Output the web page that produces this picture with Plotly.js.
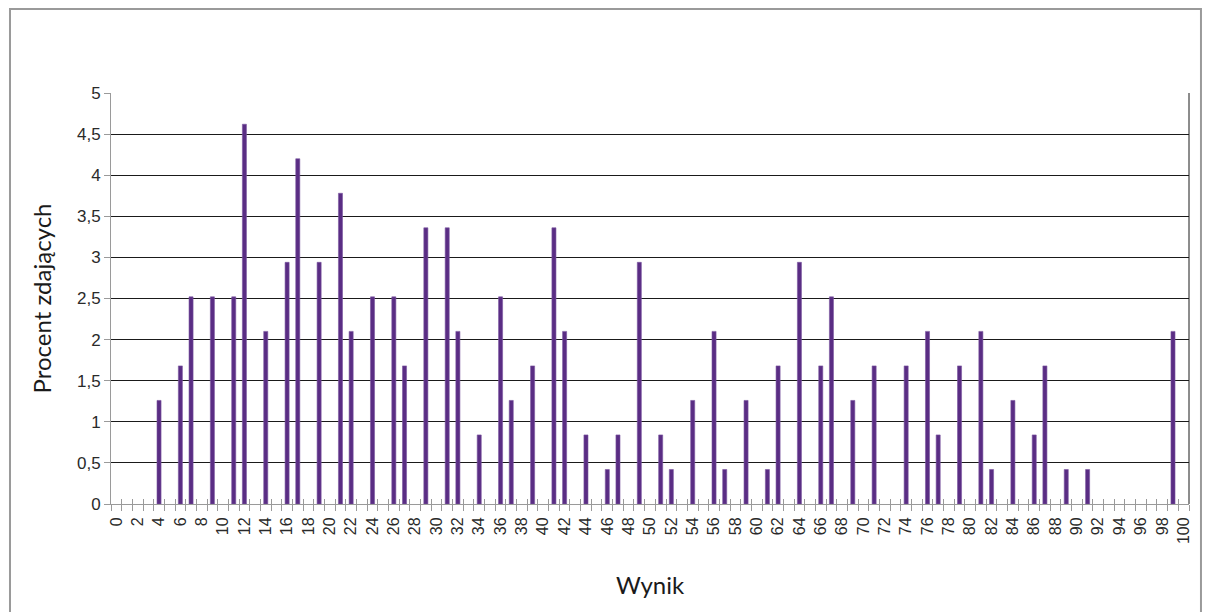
<!DOCTYPE html>
<html>
<head>
<meta charset="utf-8">
<script src="https://cdn.plot.ly/plotly-3.0.1.min.js"></script>
</head>
<body style="margin:0">
<div id="chart" style="width:1208px;height:612px"></div>
<script>
// Scores (Wynik) that have a bar, and the percent of test takers for each
const scores = [4, 6, 7, 9, 11, 12, 14, 16, 17, 19, 21, 22, 24, 26, 27, 29, 31, 32, 34,
                36, 37, 39, 41, 42, 44, 46, 47, 49, 51, 52, 54, 56, 57, 59, 61, 62, 64, 66, 67,
                69, 71, 74, 76, 77, 79, 81, 82, 84, 86, 87, 89, 91, 99];
const percents = [1.26, 1.68, 2.52, 2.52, 2.52, 4.62, 2.1, 2.94, 4.2, 2.94, 3.78, 2.1, 2.52, 2.52, 1.68, 3.36, 3.36, 2.1, 0.84,
                  2.52, 1.26, 1.68, 3.36, 2.1, 0.84, 0.42, 0.84, 2.94, 0.84, 0.42, 1.26, 2.1, 0.42, 1.26, 0.42, 1.68, 2.94, 1.68, 2.52,
                  1.26, 1.68, 1.68, 2.1, 0.84, 1.68, 2.1, 0.42, 1.26, 0.84, 1.68, 0.42, 0.42, 2.1];
// X tick labels (every second score 0..100)
const xTickVals = [];
for (let v = 0; v <= 100; v += 2) xTickVals.push(v);
const xTickText = xTickVals.map(String);
// Y tick labels (decimal comma)
const yTickVals = [0, 0.5, 1, 1.5, 2, 2.5, 3, 3.5, 4, 4.5, 5];
const yTickText = ['0', '0,5', '1', '1,5', '2', '2,5', '3', '3,5', '4', '4,5', '5'];
// Category boundaries, where the x-axis tick marks sit
const xBoundaries = [];
for (let v = 0; v <= 101; v++) xBoundaries.push(v - 0.5);
const xTitle = 'Wynik';
const yTitle = 'Procent zdających';

const bars = {
  type: 'bar',
  x: scores,
  y: percents,
  width: 0.38,
  marker: { color: '#5a2d84', line: { color: '#7a56a0', width: 0.6 } },
  hoverinfo: 'x+y'
};
// invisible companions so the tick-mark axes are drawn
const tickHelperOut = { type: 'scatter', mode: 'markers', x: scores, y: percents, xaxis: 'x2', yaxis: 'y',
  marker: { opacity: 0 }, hoverinfo: 'skip', showlegend: false };
const tickHelperIn = { type: 'scatter', mode: 'markers', x: scores, y: percents, xaxis: 'x3', yaxis: 'y',
  marker: { opacity: 0 }, hoverinfo: 'skip', showlegend: false };

const xRange = [-0.5, 100.5];

const layout = {
  width: 1208,
  height: 612,
  margin: { l: 111, r: 19, t: 93, b: 108 },
  paper_bgcolor: '#ffffff',
  plot_bgcolor: '#ffffff',
  showlegend: false,
  font: { size: 16 },
  xaxis: {
    range: xRange,
    tickmode: 'array',
    tickvals: xTickVals,
    ticktext: xTickText,
    tickangle: -90,
    ticks: 'outside',
    ticklen: 6,
    tickcolor: '#ffffff',
    tickfont: { family: 'Arial', size: 16, color: '#2a2a2a' },
    showgrid: false,
    zeroline: false,
    showline: true,
    linecolor: '#9a9a9a',
    linewidth: 1,
    title: { text: xTitle, font: { family: 'Lato', size: 24, color: '#1a1a1a' }, standoff: 34 }
  },
  xaxis2: {
    overlaying: 'x',
    anchor: 'y',
    side: 'bottom',
    range: xRange,
    tickmode: 'array',
    tickvals: xBoundaries,
    showticklabels: false,
    ticks: 'outside',
    ticklen: 6,
    tickcolor: '#9a9a9a',
    tickwidth: 1,
    showgrid: false,
    zeroline: false,
    showline: false
  },
  xaxis3: {
    overlaying: 'x',
    anchor: 'y',
    side: 'bottom',
    range: xRange,
    tickmode: 'array',
    tickvals: xBoundaries,
    showticklabels: false,
    ticks: 'inside',
    ticklen: 5,
    tickcolor: '#9a9a9a',
    tickwidth: 1,
    showgrid: false,
    zeroline: false,
    showline: false
  },
  yaxis: {
    range: [0, 5],
    tickmode: 'array',
    tickvals: yTickVals,
    ticktext: yTickText,
    ticks: 'outside',
    ticklen: 6,
    tickcolor: '#9a9a9a',
    tickfont: { family: 'Arial', size: 17, color: '#2a2a2a' },
    showgrid: true,
    gridcolor: '#1a1a1a',
    gridwidth: 1,
    zeroline: false,
    showline: true,
    linecolor: '#9a9a9a',
    linewidth: 1,
    title: { text: yTitle, font: { family: 'Lato', size: 24, color: '#1a1a1a' }, standoff: 18 }
  },
  shapes: [
    { type: 'line', xref: 'paper', yref: 'paper', x0: 1, x1: 1, y0: 0, y1: 1,
      line: { color: '#1a1a1a', width: 1 } },
    { type: 'rect', xref: 'paper', yref: 'paper', x0: -0.0937, x1: 1.0111, y0: -0.29, y1: 1.2044,
      line: { color: '#9a9a9a', width: 2 }, fillcolor: 'rgba(0,0,0,0)', layer: 'below' }
  ]
};

Plotly.newPlot('chart', [bars, tickHelperOut, tickHelperIn], layout, { displayModeBar: false });
</script>
</body>
</html>
